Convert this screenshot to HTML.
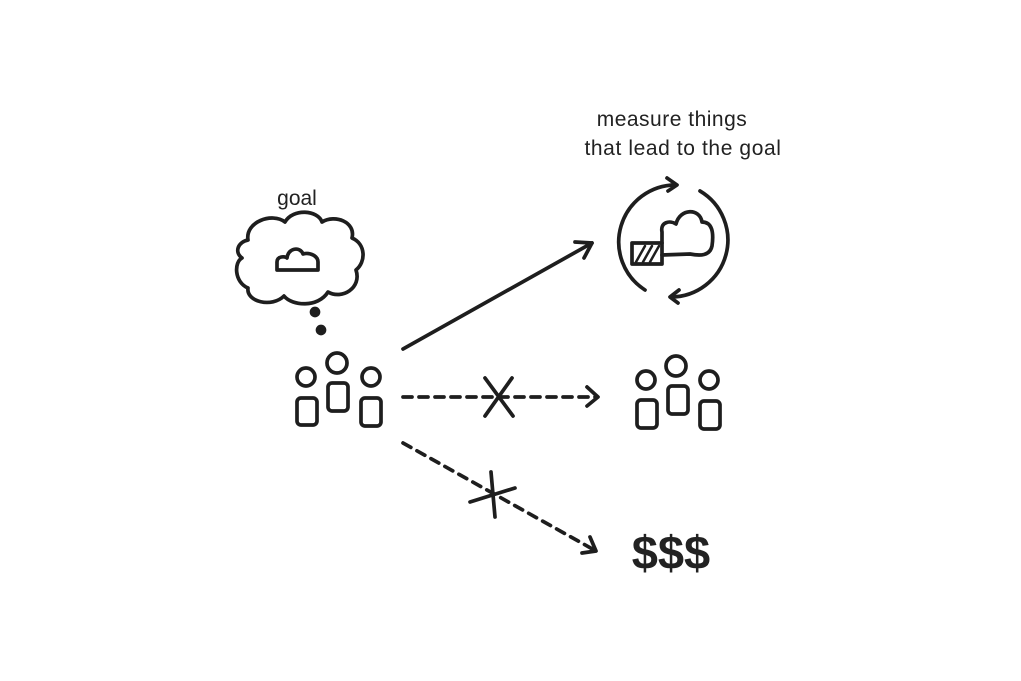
<!DOCTYPE html>
<html><head><meta charset="utf-8"><style>
html,body{margin:0;padding:0;background:#fff;width:1021px;height:681px;overflow:hidden}
</style></head><body>
<svg width="1021" height="681" viewBox="0 0 1021 681" xmlns="http://www.w3.org/2000/svg">
<g fill="#222" font-family="Liberation Sans, sans-serif" font-size="21">
<text x="297" y="205" text-anchor="middle">goal</text>
<text x="672" y="126" text-anchor="middle" letter-spacing="0.5">measure things</text>
<text x="683" y="155" text-anchor="middle" letter-spacing="0.6">that lead to the goal</text>
<text x="671" y="569" text-anchor="middle" font-size="47" font-weight="bold" letter-spacing="0">$$$</text>
</g>
<g fill="none" stroke="#1e1e1e" stroke-width="3.7" stroke-linecap="round" stroke-linejoin="round">
<path d="M248,240 C245,222 272,212 285,222 C293,208 318,210 322,222 C335,214 356,222 352,238 C366,244 366,262 356,270 C362,288 342,300 328,292 C318,308 292,306 284,296 C272,308 246,302 248,288 C234,282 234,262 242,258 C234,252 238,242 248,240 Z"/>
<path d="M277,270 L277,262 C277,256 285,256 287,258 C288,248 300,246 303,254 C310,252 318,256 318,262 L318,270 Z"/>
<circle cx="315" cy="312" r="3.5" fill="#1e1e1e"/>
<circle cx="321" cy="330" r="3.5" fill="#1e1e1e"/>
<circle cx="306" cy="377" r="9"/><circle cx="337" cy="363" r="10"/><circle cx="371" cy="377" r="9"/>
<rect x="297" y="398" width="20" height="27" rx="4"/><rect x="328" y="383" width="20" height="28" rx="4"/><rect x="361" y="398" width="20" height="28" rx="4"/>
<circle cx="646" cy="380" r="9"/><circle cx="676" cy="366" r="10"/><circle cx="709" cy="380" r="9"/>
<rect x="637" y="400" width="20" height="28" rx="4"/><rect x="668" y="386" width="20" height="28" rx="4"/><rect x="700" y="401" width="20" height="28" rx="4"/>
<path d="M403,349 L592,243"/><path d="M575,242 L592,243 L584,258"/>
<path d="M403,397 L597,397" stroke-dasharray="9,7"/><path d="M587,387 L598,397 L587,406"/>
<path d="M485,378 L513,416 M512,378 L485,416"/>
<path d="M403,443 L596,551" stroke-dasharray="9,7"/><path d="M590,537 L596,551 L582,553"/>
<path d="M491,472 L495,517 M470,502 L515,488"/>
<path d="M676,185 A57,57 0 0 0 645,290"/><path d="M667,178 L677,185 L668,191"/>
<path d="M700,191 A57,57 0 0 1 671,297"/><path d="M679,290 L670,297 L678,303"/>
<path d="M662,243 L662,232 C660,222 670,220 676,224 C680,208 700,208 702,222 C712,222 714,232 712,246 C710,256 700,256 690,254 L662,255"/>
<rect x="632" y="243" width="30" height="21"/>
<path d="M636,262 L645,246 M643,262 L652,246 M650,262 L659,246" stroke-width="2.5"/>
</g>
</svg>
</body></html>
